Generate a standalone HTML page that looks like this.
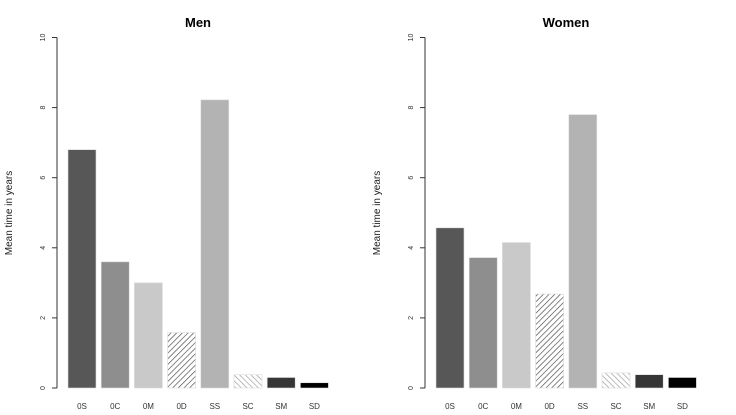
<!DOCTYPE html>
<html><head><meta charset="utf-8"><style>
html,body{margin:0;padding:0;background:#fff}
svg{display:block;font-family:"Liberation Sans",sans-serif}
</style></head><body>
<svg id="chart" width="736" height="415">
<defs>
<pattern id="hatchR" patternUnits="userSpaceOnUse" width="4" height="4" patternTransform="rotate(45)">
<line x1="0" y1="0" x2="0" y2="4" stroke="#444" stroke-width="1.3"/></pattern>
<pattern id="hatchL" patternUnits="userSpaceOnUse" width="4" height="4" patternTransform="rotate(-45)">
<line x1="0" y1="0" x2="0" y2="4" stroke="#999" stroke-width="1.3"/></pattern>
</defs>
</svg>
<script>
const categories=["0S","0C","0M","0D","SS","SC","SM","SD"];
const menValues=[6.8,3.6,3.0,1.58,8.22,0.38,0.3,0.15];
const womenValues=[4.57,3.72,4.15,2.68,7.8,0.43,0.38,0.3];
const yTicks=[0,2,4,6,8,10];
const fills=["#575757","#8e8e8e","#c9c9c9","url(#hatchR)","#b3b3b3","url(#hatchL)","#363636","#000"];
const svg=document.getElementById('chart');
const NS="http://www.w3.org/2000/svg";
function mk(t,a){const e=document.createElementNS(NS,t);for(const k in a)e.setAttribute(k,a[k]);svg.appendChild(e);return e;}
function panel(ox,title,values,key){
  const y=v=>388-v*35.05;
  const x=i=>ox+68+i*33.2;
  const ax=ox+57;
  let e=mk('line',{x1:ax,y1:y(0),x2:ax,y2:y(10),stroke:'#333','stroke-width':1});
  
  
  yTicks.forEach(t=>{
    let l=mk('line',{x1:ax-5,y1:y(t),x2:ax,y2:y(t),stroke:'#333'});
    
    
    let tx=mk('text',{x:ax-14,y:y(t),'font-size':7,fill:'#333','text-anchor':'middle',transform:`rotate(-90 ${ax-14} ${y(t)})`,'dominant-baseline':'middle'});
    tx.textContent=t;
    
    
  });
  values.forEach((v,i)=>{
    let r=mk('rect',{x:x(i),y:y(v),width:28,height:y(0)-y(v),fill:fills[i],stroke:'#ddd','stroke-width':0.6});
    
    
    let t=mk('text',{x:x(i)+14,y:409,'font-size':8,fill:'#333','text-anchor':'middle'});
    t.textContent=categories[i];
    
    
  });
  let tt=mk('text',{x:ox+198,y:27,'font-size':13,'font-weight':'bold','text-anchor':'middle',fill:'#000'});
  tt.textContent=title;
  
  
  let yl=mk('text',{x:ox+12,y:213,'font-size':10,fill:'#222','text-anchor':'middle',transform:`rotate(-90 ${ox+12} 213)`});
  yl.textContent='Mean time in years';
  
  
}
panel(0,'Men',menValues,'men');
panel(368,'Women',womenValues,'women');
</script>
</body></html>
